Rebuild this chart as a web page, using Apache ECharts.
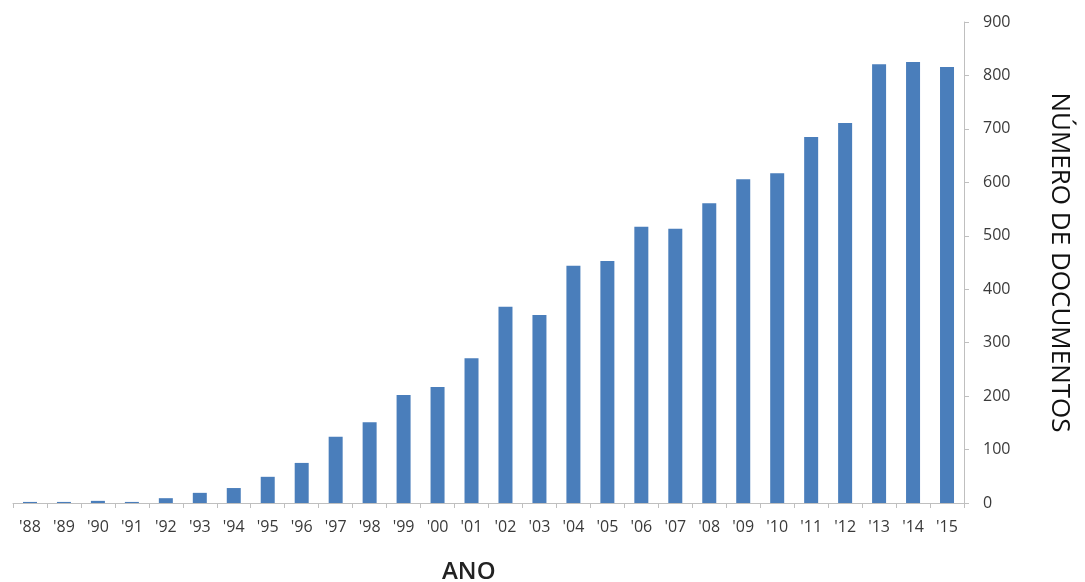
<!DOCTYPE html>
<html>
<head>
<meta charset="utf-8">
<script src="https://cdn.jsdelivr.net/npm/echarts@6/dist/echarts.min.js"></script>
<style>
html,body{margin:0;padding:0;background:#fff;}
#chart{width:1085px;height:582px;}
</style>
</head>
<body>
<div id="chart"></div>
<script>
const categories = ["'88","'89","'90","'91","'92","'93","'94","'95","'96","'97","'98","'99","'00","'01","'02","'03","'04","'05","'06","'07","'08","'09","'10","'11","'12","'13","'14","'15"];
const documentos = [2,2,4,2,9,19,28,49,75,124,151,202,217,271,367,352,444,453,517,513,561,606,617,685,711,821,825,816];
const yTicks = {min:0, max:900, interval:100};
const xAxisName = 'ANO';
const yAxisName = 'NÚMERO DE DOCUMENTOS';

const chart = echarts.init(document.getElementById('chart'));
chart.setOption({
  backgroundColor:'#ffffff',
  animation:false,
  title:{
    text:xAxisName,
    left:437, top:555,
    textStyle:{fontFamily:'Open Sans', fontSize:24, fontWeight:600, color:'#222'}
  },
  grid:{left:13, right:121, top:22, bottom:79, containLabel:false},
  xAxis:{
    type:'category',
    data:categories,
    axisLine:{lineStyle:{color:'#bfbfbf', width:1}},
    axisTick:{show:true, alignWithLabel:false, length:5, lineStyle:{color:'#bfbfbf'}},
    axisLabel:{interval:0, margin:16, fontFamily:'Open Sans', fontSize:16, color:'#3a3a3a'},
    splitLine:{show:false}
  },
  yAxis:{
    type:'value',
    position:'right',
    min:yTicks.min, max:yTicks.max, interval:yTicks.interval,
    name:yAxisName,
    nameLocation:'middle',
    nameRotate:-90,
    nameGap:82,
    nameTextStyle:{fontFamily:'Open Sans', fontSize:26, color:'#111'},
    axisLine:{show:true, lineStyle:{color:'#bfbfbf', width:1}},
    axisTick:{show:true, length:5, lineStyle:{color:'#bfbfbf'}},
    axisLabel:{margin:19, fontFamily:'Open Sans', fontSize:16, color:'#3a3a3a'},
    splitLine:{show:false}
  },
  series:[{
    type:'bar',
    data:documentos,
    barWidth:14,
    itemStyle:{color:'#4a7ebb'}
  }]
});
</script>
</body>
</html>
